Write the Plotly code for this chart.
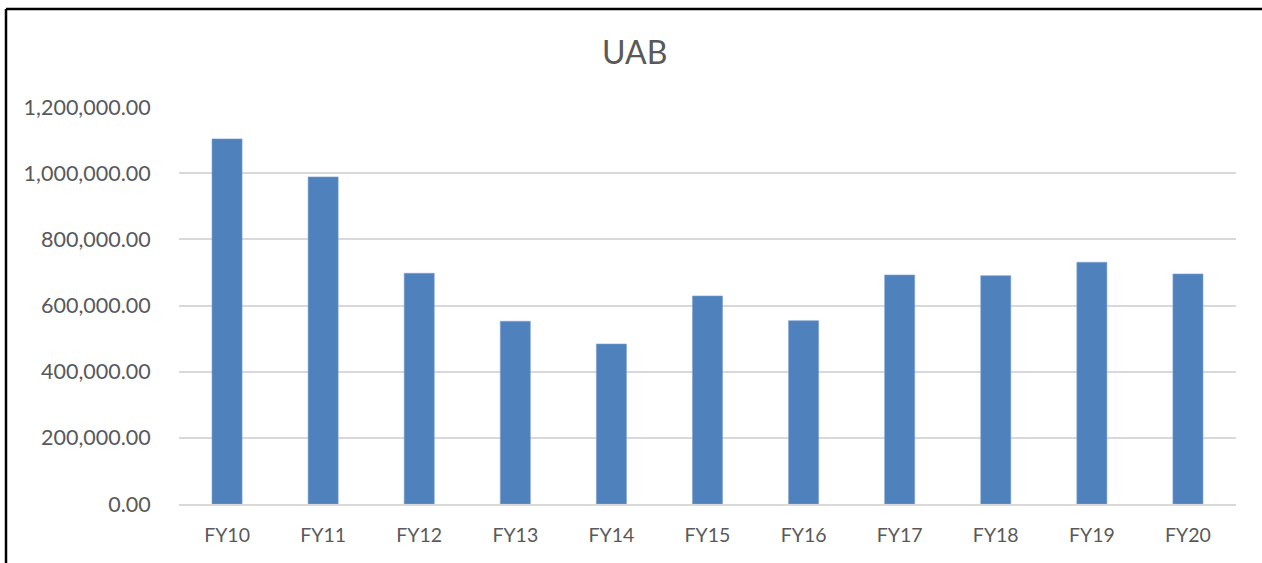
import plotly.graph_objects as go

categories = ["FY10", "FY11", "FY12", "FY13", "FY14", "FY15", "FY16", "FY17", "FY18", "FY19", "FY20"]
values = [1103600, 988700, 697500, 552400, 483700, 628900, 554200, 692400, 690300, 730800, 695400]
y_ticks = [0, 200000, 400000, 600000, 800000, 1000000, 1200000]
title_text = "UAB"

FONT = "Lato, 'Open Sans', sans-serif"
GRAY = "#595959"

fig = go.Figure(
    go.Bar(
        x=categories,
        y=values,
        marker=dict(color="#4F81BD", line=dict(color="#7FA3D1", width=0.6)),
        hoverinfo="x+y",
    )
)

L, R, T, B = 179, 26, 107, 59
W, H = 1262, 563
pw, ph = W - L - R, H - T - B

bx0 = (6 - L) / pw
bx1 = (W - L) / pw
by0 = (T + ph - H) / ph
by1 = (T + ph - 9) / ph

fig.update_layout(
    width=W,
    height=H,
    margin=dict(l=L, r=R, t=T, b=B, pad=0),
    paper_bgcolor="white",
    plot_bgcolor="white",
    bargap=0.687,
    showlegend=False,
    title=dict(
        text=title_text,
        x=0.503,
        xref="container",
        xanchor="center",
        y=1 - 53 / H,
        yref="container",
        yanchor="middle",
        font=dict(family=FONT, size=32, color=GRAY),
    ),
    font=dict(family=FONT, color=GRAY),
    xaxis=dict(
        showgrid=False,
        showline=True,
        linecolor="#d9d9d9",
        linewidth=1.5,
        ticks="outside",
        ticklen=13,
        tickcolor="rgba(0,0,0,0)",
        tickfont=dict(family=FONT, size=19.5, color=GRAY),
        fixedrange=True,
    ),
    yaxis=dict(
        range=[0, 1200000],
        tickvals=y_ticks,
        tickformat=",.2f",
        showgrid=True,
        gridcolor="#d9d9d9",
        gridwidth=1.5,
        zeroline=False,
        showline=False,
        ticks="outside",
        ticklen=23,
        tickcolor="rgba(0,0,0,0)",
        tickfont=dict(family=FONT, size=21.5, color=GRAY),
        fixedrange=True,
    ),
    shapes=[
        dict(type="line", xref="paper", yref="paper",
             x0=bx0, x1=bx0, y0=by0, y1=by1,
             line=dict(color="black", width=2.5), layer="above"),
        dict(type="line", xref="paper", yref="paper",
             x0=bx0, x1=bx1, y0=by1, y1=by1,
             line=dict(color="black", width=2.5), layer="above"),
    ],
)

fig.write_html(
    "out.html",
    config={"displayModeBar": False},
    post_script=(
        "document.documentElement.style.margin='0';"
        "document.documentElement.style.overflow='hidden';"
        "document.body.style.margin='0';document.body.style.overflow='hidden';"
    ),
)
